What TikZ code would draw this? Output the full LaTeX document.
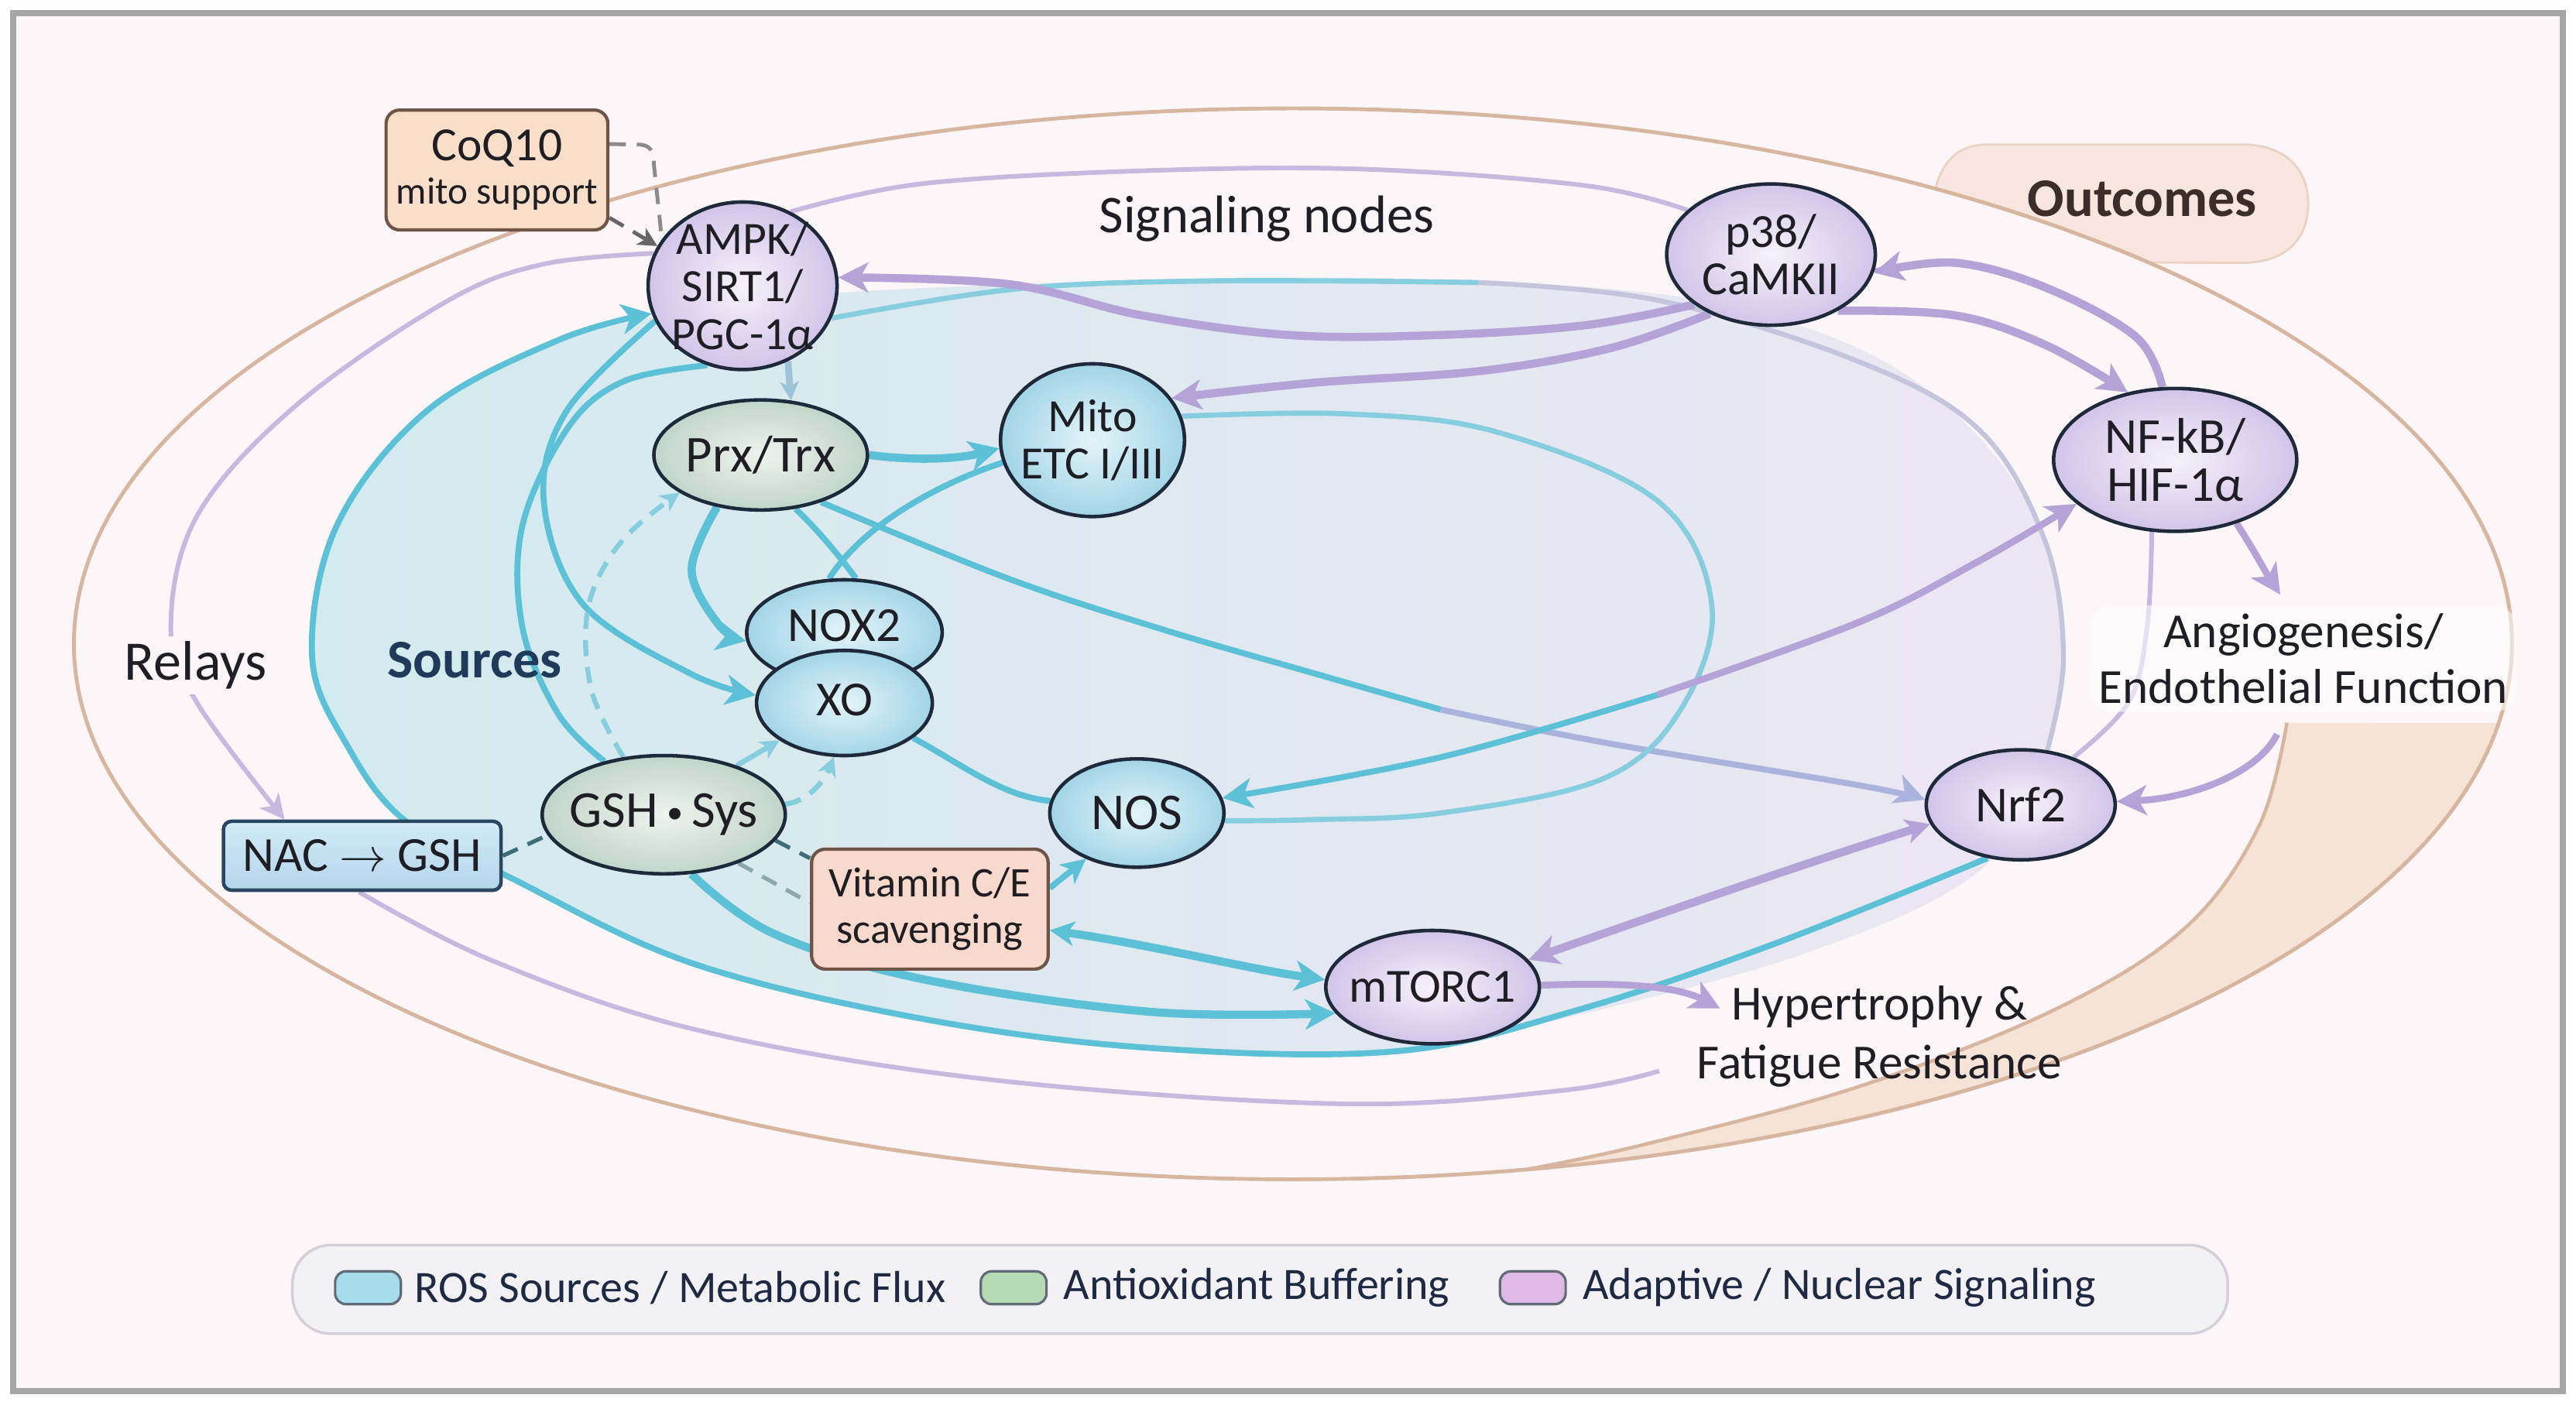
\documentclass[tikz,border=0pt]{standalone}
\usepackage{fontspec}
\setmainfont{Carlito}
\usetikzlibrary{shapes.geometric,arrows.meta}
\newdimen\upx \upx=0.021218cm
\definecolor{cTeal}{HTML}{5CC0D6}
\definecolor{cTealL}{HTML}{86CDDF}
\definecolor{cTealD}{HTML}{3D6E78}
\definecolor{cSteel}{HTML}{9DC3D9}
\definecolor{cPur}{HTML}{B5A3D7}
\definecolor{cPurL}{HTML}{C6B9E0}
\definecolor{cPurB}{HTML}{A9B3DC}
\definecolor{cGrayL}{HTML}{C4C4DD}
\definecolor{cTan}{HTML}{D8B59E}
\definecolor{cEdge}{HTML}{1E2A3B}
\definecolor{cBg}{HTML}{FCF6F9}
\definecolor{cNavy}{HTML}{1F3A5A}
\definecolor{cTxt}{HTML}{1E1E24}
\definecolor{blueIn}{HTML}{E4F4F9}
\definecolor{blueOut}{HTML}{A2D5E7}
\definecolor{greenIn}{HTML}{EEF3EF}
\definecolor{greenOut}{HTML}{C2D5CA}
\definecolor{purIn}{HTML}{F7F2FB}
\definecolor{purOut}{HTML}{D2C4E8}
\definecolor{cCoq}{HTML}{F9DFC9}
\definecolor{cCoqE}{HTML}{6E5547}
\definecolor{cVit}{HTML}{F9D9CB}
\definecolor{cNacT}{HTML}{D3EAF6}
\definecolor{cNacB}{HTML}{B3D6EA}
\definecolor{cNacE}{HTML}{2B4661}
\definecolor{cOut}{HTML}{F6E6DD}
\definecolor{cOutT}{HTML}{3C2D2A}
\definecolor{cBand}{HTML}{F6E2D4}
\definecolor{cFillL}{HTML}{D2EBEE}
\definecolor{cFillR}{HTML}{ECE6F3}
\definecolor{cLeg}{HTML}{F2F1F4}
\definecolor{cLegE}{HTML}{D4D0D9}
\definecolor{cLegT}{HTML}{1E2A44}
\definecolor{sw1c}{HTML}{A6DCEB}
\definecolor{sw2c}{HTML}{B7DAB5}
\definecolor{sw3c}{HTML}{DDB9E6}
\pgfdeclarelayer{bg}
\pgfdeclarelayer{edges}
\pgfsetlayers{bg,edges,main}
\newcommand\fsz[2]{\fontsize{#1}{#2}\selectfont}
\begin{document}
\begin{tikzpicture}[x=0.021218cm,y=-0.021218cm,
  nd/.style={ellipse, draw=cEdge, line width=1.3pt, inner sep=0pt},
  bnode/.style={nd, inner color=blueIn, outer color=blueOut},
  gnode/.style={nd, inner color=greenIn, outer color=greenOut},
  pnode/.style={nd, inner color=purIn, outer color=purOut},
  lbl/.style={align=center, text=cTxt, inner sep=0pt},
  txt/.style={align=center, text=cTxt, inner sep=1pt},
  tk/.style={draw=cTeal, line width=3pt},
  tm/.style={draw=cTeal, line width=2.2pt},
  tl/.style={draw=cTealL, line width=1.9pt},
  pk/.style={draw=cPur, line width=3pt},
  pm/.style={draw=cPur, line width=2.5pt},
  pl/.style={draw=cPurL, line width=1.7pt},
  tipL/.style={-{Stealth[length=11pt,width=11pt,inset=3pt]}},
  tipM/.style={-{Stealth[length=9pt,width=9pt,inset=2.5pt]}},
  tipLL/.style={{Stealth[length=9pt,width=9pt,inset=2.5pt]}-{Stealth[length=11pt,width=11pt,inset=3pt]}},
  tipS/.style={-{Stealth[length=7pt,width=7pt,inset=2pt]}},
  dsh/.style={dash pattern=on 6pt off 4pt},
  swatch/.style={draw=cEdge!70, rounded corners=4pt, minimum width=40\upx, minimum height=20\upx, inner sep=0pt, line width=0.9pt},
  legtxt/.style={anchor=west, inner sep=0pt, font=\fsz{16.5}{18}, text=cLegT},
]
\path[use as bounding box] (0,0) rectangle (1568,855);

% ---------------- nodes ----------------
\node[draw=cCoqE, fill=cCoq, line width=1.2pt, rounded corners=5pt, minimum width=135\upx, minimum height=73\upx, align=center, text=cTxt, inner sep=1pt] (coq) at (302.5,103.5) {{\fsz{17.5}{18}CoQ10}\\[4pt]{\fsz{14}{16}mito support}};
\node[pnode, minimum width=115\upx, minimum height=102\upx, label={[lbl,font=\fsz{17}{17.5}]center:{AMPK/\\SIRT1/\\PGC-1α}}] (ampk) at (452,174) {};
\node[txt, font=\fsz{19.5}{21}] (sig) at (771,133) {Signaling nodes};
\node[pnode, minimum width=127\upx, minimum height=86\upx, label={[lbl,font=\fsz{17.5}{17.5}]center:{p38/\\CaMKII}}] (p38) at (1078,155) {};
\node[gnode, minimum width=130\upx, minimum height=67\upx, label={[lbl,font=\fsz{19}{20}]center:{Prx/Trx}}] (prx) at (463,277) {};
\node[bnode, minimum width=112\upx, minimum height=93\upx, label={[lbl,font=\fsz{17}{17.5}]center:{Mito\\ETC I/III}}] (mito) at (665,268) {};
\node[pnode, minimum width=148\upx, minimum height=87\upx, label={[lbl,font=\fsz{18.5}{17.5}]center:{NF-kB/\\HIF-1α}}] (nfkb) at (1324,280) {};
\node[bnode, minimum width=119\upx, minimum height=64\upx, label={[lbl,font=\fsz{18}{20},yshift=2.5pt]center:{NOX2}}] (nox) at (514,385) {};
\node[bnode, minimum width=107\upx, minimum height=64\upx, label={[lbl,font=\fsz{18}{20},yshift=1pt]center:{XO}}] (xo) at (514,428) {};
\node[gnode, minimum width=148\upx, minimum height=72\upx, label={[lbl,font=\fsz{19}{20}]center:{GSH\,\raisebox{1.5pt}{\fsz{12}{12}\textbullet}\,Sys}}] (gsh) at (404,496) {};
\node[draw=cNacE, top color=cNacT, bottom color=cNacB, line width=1.3pt, rounded corners=3pt, minimum width=169\upx, minimum height=42\upx, text=cTxt, font=\fsz{18}{20}, inner sep=1pt] (nac) at (220.5,521) {NAC $\rightarrow$ GSH};
\node[draw=cCoqE, fill=cVit, line width=1.2pt, rounded corners=5pt, minimum width=144\upx, minimum height=73\upx, align=center, text=cTxt, font=\fsz{15.5}{17}, inner sep=1pt] (vit) at (566,553.5) {Vitamin C/E\\scavenging};
\node[bnode, minimum width=106\upx, minimum height=66\upx, label={[lbl,font=\fsz{19}{20}]center:{NOS}}] (nos) at (692,495) {};
\node[pnode, minimum width=115\upx, minimum height=67\upx, label={[lbl,font=\fsz{18.5}{20}]center:{Nrf2}}] (nrf) at (1230,490) {};
\node[pnode, minimum width=130\upx, minimum height=69\upx, label={[lbl,font=\fsz{17.5}{20}]center:{mTORC1}}] (mtor) at (872,601) {};
\node[txt, fill=cBg, inner sep=2pt, font=\fsz{20.5}{22}] (relays) at (119,405) {Relays};
\node[txt, font=\bfseries\fsz{20}{22}, text=cNavy] (sources) at (289,402) {Sources};
\node[txt, fill=white, fill opacity=0.55, text opacity=1, rounded corners=8pt, inner sep=3pt, font=\fsz{18}{20.5}] (angio) at (1402,401) {Angiogenesis/\\Endothelial Function};
\node[txt, font=\fsz{18}{21.5}] (hyp) at (1144,631) {Hypertrophy \&\\Fatigue Resistance};
\node[txt, font=\bfseries\fsz{20}{22}, text=cOutT] (outc) at (1304,121) {Outcomes};

% legend
\node[draw=cLegE, fill=cLeg, line width=1pt, rounded corners=0.5cm, minimum width=1178\upx, minimum height=54\upx] (leg) at (767,785) {};
\node[swatch, fill=sw1c] (sw1) at (224,784) {};
\node[swatch, fill=sw2c] (sw2) at (617,784) {};
\node[swatch, fill=sw3c] (sw3) at (933,784) {};
\node[legtxt] (lt1) at (252,784) {ROS Sources / Metabolic Flux};
\node[legtxt] (lt2) at (647,784) {Antioxidant Buffering};
\node[legtxt] (lt3) at (963,784) {Adaptive / Nuclear Signaling};

\coordinate (mid1) at (877,432);
\coordinate (mid2) at (1009,423);
\coordinate (top1) at (900,172);
\coordinate (angT) at (1388,362);
\coordinate (angB) at (1386,447);
\coordinate (hypin) at (1047,614);
\coordinate (r3e) at (1010,652);

% ---------------- background ----------------
\begin{pgfonlayer}{bg}
\fill[white] (0,0) rectangle (1568,855);
\filldraw[fill=cBg, draw=black!35, line width=2.2pt] (8,8) rectangle (1560,847);
% outcomes band
\fill[cBand, opacity=0.9] plot[smooth, tension=0.6] coordinates {(1392,440) (1375,503) (1330,565) (1250,615) (1130,662) (1000,697) (929,712)} -- plot[domain=79:8.5, samples=30, variable=\t] ({787+742*cos(\t)},{392+326*sin(\t)}) -- cycle;
% outcomes blob
\filldraw[fill=cOut, draw=cTan!60, line width=0.8pt] plot[domain=-45.4:-58.2, samples=12, variable=\t] ({787+742*cos(\t)},{392+326*sin(\t)}) .. controls (1182,100) and (1190,88) .. (1210,88) -- (1365,88) .. controls (1392,88) and (1405,104) .. (1405,124) .. controls (1405,145) and (1392,160) .. (1365,160) -- cycle;
% tan ring
\draw[cTan, line width=1.4pt] (787,392) ellipse [x radius=742\upx, y radius=326\upx];
\draw[cTan, line width=1.3pt] plot[smooth, tension=0.6] coordinates {(1392,440) (1375,503) (1330,565) (1250,615) (1130,662) (1000,697) (929,712)};
% filled sources region
\shade[left color=cFillL, right color=cFillR] plot[smooth cycle, tension=0.6] coordinates {(190,400) (205,320) (260,250) (350,205) (470,182) (620,173) (780,169) (940,173) (1060,188) (1160,228) (1230,300) (1256,390) (1245,460) (1205,530) (1100,580) (960,618) (850,640) (700,638) (560,620) (420,586) (312,535) (247,500) (212,455)};
\end{pgfonlayer}

% ---------------- connectors ----------------
\begin{pgfonlayer}{edges}
% purple relay ring
\draw[pl] plot[smooth, tension=0.6] coordinates {(ampk.57) (560,112) (695,104) (830,103) (965,113) (p38.152)};
\draw[pl, tipM] plot[smooth, tension=0.6] coordinates {(ampk.160) (330,161) (271,184) (180,247) (120,314) (104,382) (120,428) (nac.155)};
\draw[pl] plot[smooth, tension=0.6] coordinates {(nac.-95) (300,585) (424,627) (600,657) (815,672) (950,664) (r3e)};
\draw[pl] plot[smooth, tension=0.6] coordinates {(nfkb.252) (1307,381) (1296,427) (nrf.42)};
% region boundary
\draw[tm, tipL] plot[smooth, tension=0.6] coordinates {(nrf.238) (1079,575) (960,615) (850,640) (700,638) (560,620) (420,586) (312,535) (247,500) (212,455) (190,400) (205,320) (260,250) (340,207) (ampk.197)};
\draw[tl] plot[smooth, tension=0.6] coordinates {(ampk.-20) (618,176) (740,171) (top1)};
\draw[draw=cGrayL, line width=1.8pt] plot[smooth, tension=0.6] coordinates {(top1) (1010,183) (1131,220) (1205,262) (1245,330) (1256,400) (nrf.64)};
% CoQ10 dashed links
\draw[draw=black!45, line width=1.4pt, dsh] (coq.13) -- (388,88) .. controls (396,88) and (398,92) .. (398,100) -- (ampk.150);
\draw[draw=black!60, line width=1.4pt, dsh, tipS] (coq.-23) -- (ampk.155);
% teal connectors
\draw[tk, tipL] (prx.east) .. controls (560,281) and (585,279) .. (mito.185);
\draw[tk, tipL] plot[smooth, tension=0.6] coordinates {(prx.230) (421,347) (438,381) (nox.185)};
\draw[tm, tipL] plot[smooth, tension=0.6] coordinates {(ampk.202) (345,250) (331,305) (355,368) (420,410) (xo.175)};
\draw[tm] plot[smooth, tension=0.6] coordinates {(ampk.246) (380,232) (346,260) (318,320) (318,382) (340,435) (gsh.138)};
\draw[draw=cTealL, line width=1.8pt, dsh, tipS] plot[smooth, tension=0.6] coordinates {(gsh.125) (360,420) (358,370) (378,330) (prx.205)};
\draw[tl, tipS] (gsh.34) -- (xo.210);
\draw[tl, dsh, tipS] (gsh.5) .. controls (492,488) and (502,475) .. (xo.259);
\draw[draw=cTealD, line width=1.5pt, dsh] (nac.east) -- (gsh.190);
\draw[draw=cTealD, line width=1.5pt, dsh] (gsh.-13) -- (vit.157);
\draw[draw=cTealD!60, line width=1.5pt, dsh] (gsh.-33) -- (vit.177);
\draw[tm, tipM] (vit.10) -- (nos.222);
\draw[tm] (xo.-27) .. controls (585,465) and (610,485) .. (nos.172);
\draw[tm] (mito.194) .. controls (570,295) and (525,320) .. (nox.106);
\draw[tm] (prx.-57) .. controls (500,325) and (512,340) .. (nox.78);
\draw[tm] plot[smooth, tension=0.6] coordinates {(prx.-38) (613,352) (707,383) (800,410) (mid1)};
\draw[draw=cPurB, line width=2.2pt, tipL] plot[smooth, tension=0.6] coordinates {(mid1) (976,452) (1131,478) (nrf.177)};
\draw[tl] plot[smooth, tension=0.6] coordinates {(mito.15) (820,252) (911,263) (1009,305) (1042,369) (1023,432) (976,474) (877,495) (800,499) (nos.-5)};
\draw[tm, tipL] plot[smooth, tension=0.6] coordinates {(mid2) (877,461) (nos.10)};
\draw[pm, tipL] plot[smooth, tension=0.6] coordinates {(mid2) (1131,379) (1202,343) (nfkb.204)};
\draw[tk, tipLL] (vit.-10) .. controls (700,575) and (760,590) .. (mtor.176);
\draw[tk, tipL] plot[smooth, tension=0.6] coordinates {(gsh.-65) (470,568) (561,596) (700,616) (mtor.195)};
\draw[draw=cSteel, line width=2.5pt, tipS] (ampk.-59) -- (prx.61);
% purple connectors
\draw[pk, tipL] plot[smooth, tension=0.6] coordinates {(p38.213) (965,198) (875,204) (785,204) (695,192) (614,173) (ampk.5)};
\draw[pk, tipL] plot[smooth, tension=0.6] coordinates {(p38.224) (980,212) (900,226) (800,233) (mito.28)};
\draw[pk, tipL] plot[smooth, tension=0.6] coordinates {(p38.-40) (1190,192) (1245,210) (nfkb.125)};
\draw[pk, tipL] plot[smooth, tension=0.6] coordinates {(nfkb.100) (1300,205) (1245,175) (1190,160) (p38.-10)};
\draw[pm, tipL] (nfkb.-46) .. controls (1372,335) and (1380,350) .. (angT);
\draw[pm, tipL] (angB) .. controls (1375,470) and (1335,486) .. (nrf.2);
\draw[pk, tipLL] (nrf.192) .. controls (1100,525) and (1000,560) .. (mtor.16);
\draw[pm, tipL] (mtor.1) .. controls (985,598) and (1020,600) .. (hypin);
\end{pgfonlayer}
\end{tikzpicture}
\end{document}
